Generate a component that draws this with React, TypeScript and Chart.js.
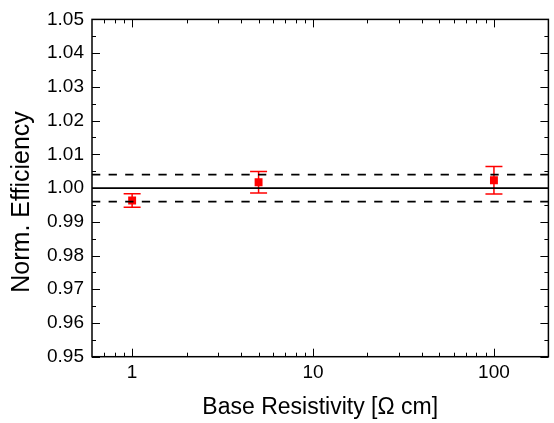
import React, { useEffect, useRef } from "react";
import { Chart, registerables } from "chart.js";

Chart.register(...registerables);

// ---- Data ----
const resistivity = [1, 5, 100];
const normEfficiency = [0.9963, 1.0017, 1.0023];
const efficiencyError = [0.002, 0.0032, 0.0041];
const referenceLevel = 1.0;
const toleranceBand = [0.996, 1.004];
const xRange = [0.6, 200];
const yRange = [0.95, 1.05];
const xMajorTicks = [1, 10, 100];
const xMinorTicks = [0.7, 0.8, 0.9, 2, 3, 4, 5, 6, 7, 8, 9, 20, 30, 40, 50, 60, 70, 80, 90];
const yMajorTicks = [0.95, 0.96, 0.97, 0.98, 0.99, 1.0, 1.01, 1.02, 1.03, 1.04, 1.05];
const yMinorTicks = [0.955, 0.965, 0.975, 0.985, 0.995, 1.005, 1.015, 1.025, 1.035, 1.045];

const FONT = "'Liberation Sans', Arial, sans-serif";

const errorBarsPlugin = {
  id: "errorBars",
  beforeDatasetsDraw(chart: any) {
    const { ctx, scales } = chart;
    const x = scales.x;
    const y = scales.y;
    ctx.save();
    ctx.strokeStyle = "#ff0000";
    ctx.lineWidth = 1.5;
    ctx.beginPath();
    resistivity.forEach((r, i) => {
      const px = x.getPixelForValue(r);
      const yt = y.getPixelForValue(normEfficiency[i] + efficiencyError[i]);
      const yb = y.getPixelForValue(normEfficiency[i] - efficiencyError[i]);
      ctx.moveTo(px, yt);
      ctx.lineTo(px, yb);
      ctx.moveTo(px - 8.5, yt);
      ctx.lineTo(px + 8.5, yt);
      ctx.moveTo(px - 8.5, yb);
      ctx.lineTo(px + 8.5, yb);
    });
    ctx.stroke();
    ctx.restore();
  },
};

const frameTicksPlugin = {
  id: "frameTicks",
  afterDraw(chart: any) {
    const { ctx, chartArea, scales } = chart;
    const { left, right, top, bottom } = chartArea;
    const x = scales.x;
    const y = scales.y;
    ctx.save();
    ctx.strokeStyle = "#000";
    ctx.lineWidth = 1;
    ctx.beginPath();
    const yTick = (v: number, len: number) => {
      const p = Math.round(y.getPixelForValue(v)) + 0.5;
      ctx.moveTo(left, p);
      ctx.lineTo(left + len, p);
      ctx.moveTo(right, p);
      ctx.lineTo(right - len, p);
    };
    const xTick = (v: number, len: number) => {
      const p = Math.round(x.getPixelForValue(v)) + 0.5;
      ctx.moveTo(p, bottom);
      ctx.lineTo(p, bottom - len);
      ctx.moveTo(p, top);
      ctx.lineTo(p, top + len);
    };
    yMajorTicks.forEach((v) => yTick(v, 8));
    yMinorTicks.forEach((v) => yTick(v, 4));
    xMajorTicks.forEach((v) => xTick(v, 8));
    xMinorTicks.forEach((v) => xTick(v, 4));
    ctx.stroke();
    ctx.lineWidth = 1.5;
    ctx.strokeRect(left, top, right - left, bottom - top);
    ctx.restore();
  },
};

export default function App() {
  const canvasRef = useRef<HTMLCanvasElement | null>(null);

  useEffect(() => {
    if (!canvasRef.current) return;
    const lineData = (v: number) => [
      { x: xRange[0], y: v },
      { x: xRange[1], y: v },
    ];
    const chart = new Chart(canvasRef.current, {
      type: "scatter",
      data: {
        datasets: [
          {
            type: "line",
            label: "reference",
            data: lineData(referenceLevel),
            borderColor: "#000",
            borderWidth: 1.8,
            pointRadius: 0,
            order: 1,
          } as any,
          ...toleranceBand.map(
            (v) =>
              ({
                type: "line",
                label: "tolerance",
                data: lineData(v),
                borderColor: "#000",
                borderWidth: 1.8,
                borderDash: [8.3, 8.3],
                pointRadius: 0,
                order: 1,
              }) as any
          ),
          {
            type: "scatter",
            label: "Norm. Efficiency",
            data: resistivity.map((r, i) => ({ x: r, y: normEfficiency[i] })),
            backgroundColor: "#ff0000",
            borderWidth: 0,
            pointStyle: "rect",
            pointRadius: 5.6,
            order: 2,
          } as any,
        ],
      },
      options: {
        responsive: false,
        devicePixelRatio: 1,
        animation: false,
        layout: { padding: { top: 16.7, right: 1, left: 0, bottom: 0 } },
        plugins: {
          legend: { display: false },
          tooltip: { enabled: false },
        },
        scales: {
          x: {
            type: "logarithmic",
            min: xRange[0],
            max: xRange[1],
            grid: { display: false, drawTicks: false },
            border: { display: false },
            afterBuildTicks: (scale: any) => {
              scale.ticks = xMajorTicks.map((v) => ({ value: v }));
            },
            afterFit: (scale: any) => {
              scale.height = 66.3;
            },
            ticks: {
              autoSkip: false,
              maxRotation: 0,
              padding: 5,
              color: "#000",
              font: { family: FONT, size: 19 },
              callback: (v: any) => String(v),
            },
            title: {
              display: true,
              text: "Base Resistivity [Ω cm]",
              color: "#000",
              font: { family: FONT, size: 23 },
              padding: { top: 0, bottom: 1.2 },
            },
          },
          y: {
            type: "linear",
            min: yRange[0],
            max: yRange[1],
            grid: { display: false, drawTicks: false },
            border: { display: false },
            afterBuildTicks: (scale: any) => {
              scale.ticks = yMajorTicks.map((v) => ({ value: v }));
            },
            afterFit: (scale: any) => {
              scale.width = 92;
            },
            ticks: {
              padding: 8,
              color: "#000",
              font: { family: FONT, size: 19 },
              callback: (v: any) => Number(v).toFixed(2),
            },
            title: {
              display: true,
              text: "Norm. Efficiency    ",
              color: "#000",
              font: { family: FONT, size: 25 },
              padding: { top: 7, bottom: 0 },
            },
          },
        },
      },
      plugins: [errorBarsPlugin, frameTicksPlugin],
    });
    return () => chart.destroy();
  }, []);

  return (
    <div style={{ position: "fixed", left: 0, top: 0, width: 554, height: 423, background: "#fff" }}>
      <canvas ref={canvasRef} width={554} height={423} style={{ display: "block" }} />
    </div>
  );
}
